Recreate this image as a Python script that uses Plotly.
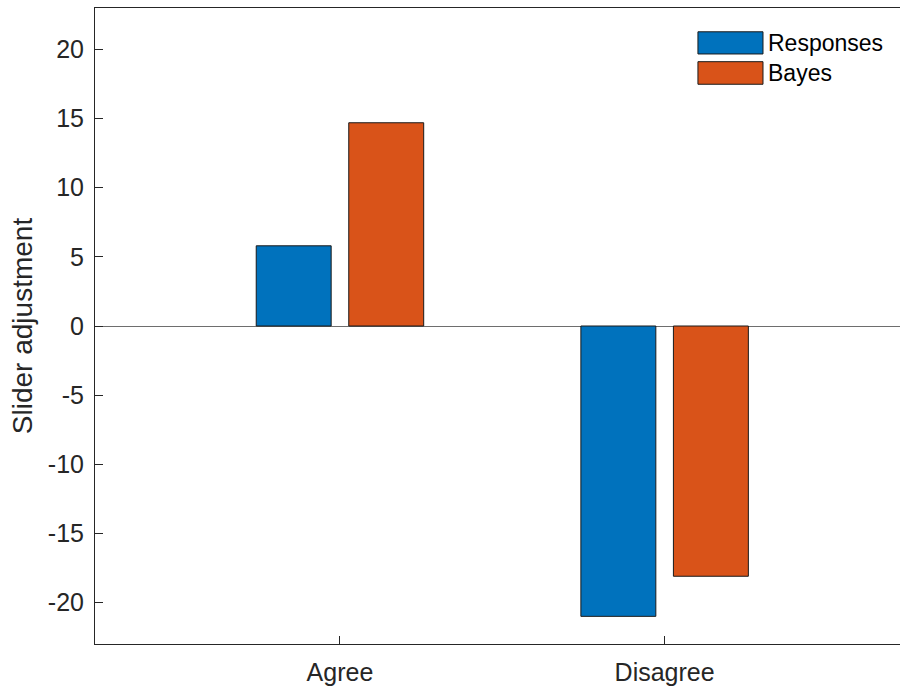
import plotly.graph_objects as go

# Data
categories = ["Agree", "Disagree"]
series_names = ["Responses", "Bayes"]
responses = [5.8, -21.0]
bayes = [14.7, -18.1]
series_colors = ["#0072BD", "#D95319"]
y_ticks = [-20, -15, -10, -5, 0, 5, 10, 15, 20]

FONT = "Liberation Sans, Arial, Helvetica, sans-serif"
INK = "#262626"
TICK_SIZE = 25

fig = go.Figure()
for name, vals, col in zip(series_names, [responses, bayes], series_colors):
    fig.add_trace(go.Bar(
        x=categories, y=vals, name=name,
        marker=dict(color=col, line=dict(color="#1a1a1a", width=1)),
        showlegend=False,
    ))

# Legend drawn as large swatches with labels in the upper right
sw_x0, sw_x1, txt_x = 0.749, 0.8298, 0.8335
rows = [(0.9626, 0.9277), (0.9156, 0.8801)]
for (ytop, ybot), name, col in zip(rows, series_names, series_colors):
    fig.add_shape(type="rect", xref="paper", yref="paper",
                  x0=sw_x0, x1=sw_x1, y0=ybot, y1=ytop,
                  fillcolor=col, line=dict(color="#1a1a1a", width=1))
    fig.add_annotation(xref="paper", yref="paper", x=txt_x, y=(ytop + ybot) / 2,
                       text=name, showarrow=False, xanchor="left", yanchor="middle",
                       font=dict(family=FONT, size=23, color="#000000"))

fig.update_layout(
    width=900, height=686,
    margin=dict(l=95, r=0, t=8, b=42),
    paper_bgcolor="white", plot_bgcolor="white",
    barmode="group", bargap=0.43, bargroupgap=0.19,
    font=dict(family=FONT, size=TICK_SIZE, color=INK),
    showlegend=False,
)
fig.update_xaxes(
    range=[-0.7545, 1.725],
    showline=True, linecolor=INK, linewidth=1, mirror=True,
    ticks="inside", ticklen=8, tickcolor=INK,
    showgrid=False, zeroline=False,
    tickfont=dict(family=FONT, size=TICK_SIZE, color=INK),
    ticklabelstandoff=6,
)
fig.update_yaxes(
    range=[-23, 23],
    tickvals=y_ticks, ticktext=[str(v) for v in y_ticks],
    showline=True, linecolor=INK, linewidth=1,
    ticks="inside", ticklen=8, tickcolor=INK,
    showgrid=False,
    zeroline=True, zerolinecolor="#6e6e6e", zerolinewidth=1,
    tickfont=dict(family=FONT, size=TICK_SIZE, color=INK),
    ticklabelstandoff=5,
    title=dict(text="Slider adjustment", font=dict(family=FONT, size=28, color=INK), standoff=7),
)

fig.write_html("out.html")
